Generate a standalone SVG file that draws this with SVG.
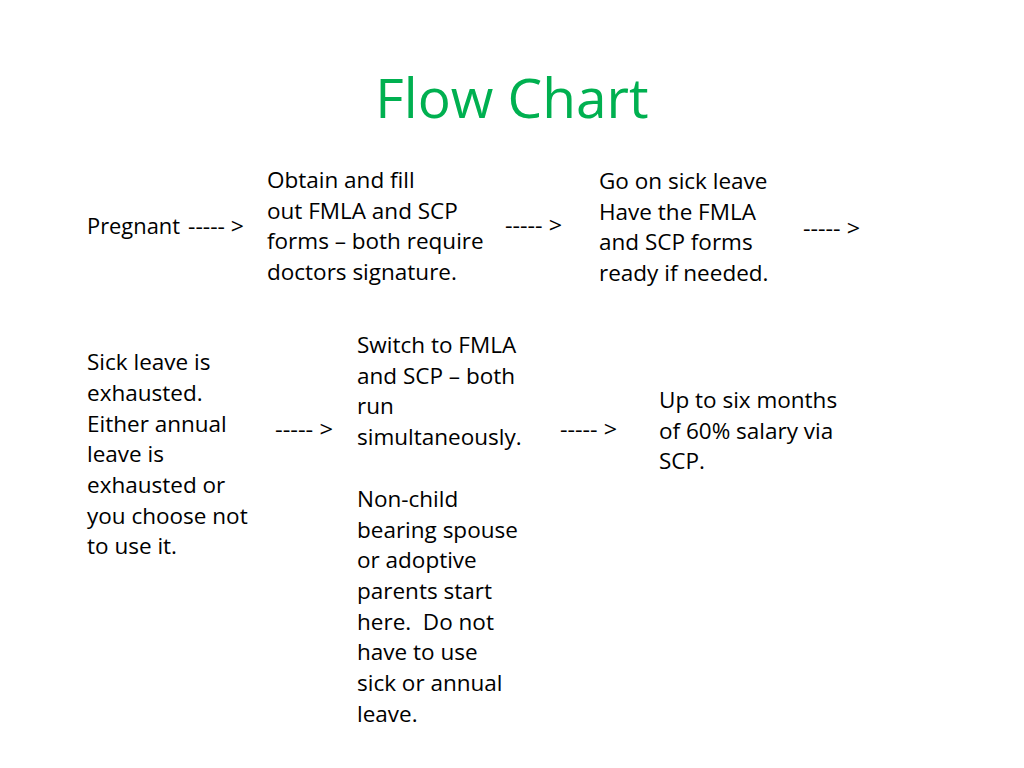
<svg xmlns="http://www.w3.org/2000/svg" width="1024" height="768" viewBox="0 0 1024 768">
<style>
.t{font-family:"Open Sans","Liberation Sans",sans-serif;font-size:22.5px;fill:#000}
.title{font-family:"Open Sans","Liberation Sans",sans-serif;font-size:55px;fill:#00B050}
</style>
<rect width="1024" height="768" fill="#fff"/>
<text class="title" x="512" y="118" text-anchor="middle">Flow Chart</text>
<g id="pregnant"><text class="t" x="87" y="234" textLength="93" lengthAdjust="spacingAndGlyphs">Pregnant</text></g>
<g id="obtain"><text class="t" x="267" y="188">Obtain and fill</text><text class="t" x="267" y="219">out FMLA and SCP</text><text class="t" x="267" y="249">forms – both require</text><text class="t" x="267" y="280">doctors signature.</text></g>
<g id="sick-leave"><text class="t" x="599" y="189">Go on sick leave</text><text class="t" x="599" y="220">Have the FMLA</text><text class="t" x="599" y="250">and SCP forms</text><text class="t" x="599" y="281">ready if needed.</text></g>
<g id="exhausted"><text class="t" x="87" y="370">Sick leave is</text><text class="t" x="87" y="401">exhausted.</text><text class="t" x="87" y="432">Either annual</text><text class="t" x="87" y="462">leave is</text><text class="t" x="87" y="493">exhausted or</text><text class="t" x="87" y="524">you choose not</text><text class="t" x="87" y="554">to use it.</text></g>
<g id="switch"><text class="t" x="357" y="353">Switch to FMLA</text><text class="t" x="357" y="384">and SCP – both</text><text class="t" x="357" y="414">run</text><text class="t" x="357" y="445">simultaneously.</text><text class="t" x="357" y="507">Non-child</text><text class="t" x="357" y="538">bearing spouse</text><text class="t" x="357" y="568">or adoptive</text><text class="t" x="357" y="599">parents start</text><text class="t" x="357" y="630" style="white-space:pre">here.  Do not</text><text class="t" x="357" y="660">have to use</text><text class="t" x="357" y="691">sick or annual</text><text class="t" x="357" y="722">leave.</text></g>
<g id="six-months"><text class="t" x="659" y="408">Up to six months</text><text class="t" x="659" y="439">of 60% salary via</text><text class="t" x="659" y="469">SCP.</text></g>
<g id="connectors">
<text class="t" x="188" y="234" textLength="56" lengthAdjust="spacingAndGlyphs">----- &gt;</text>
<text class="t" x="505" y="233" textLength="57" lengthAdjust="spacingAndGlyphs">----- &gt;</text>
<text class="t" x="803" y="236" textLength="57" lengthAdjust="spacingAndGlyphs">----- &gt;</text>
<text class="t" x="275" y="437" textLength="58" lengthAdjust="spacingAndGlyphs">----- &gt;</text>
<text class="t" x="560" y="437" textLength="57" lengthAdjust="spacingAndGlyphs">----- &gt;</text>
</g>
</svg>
